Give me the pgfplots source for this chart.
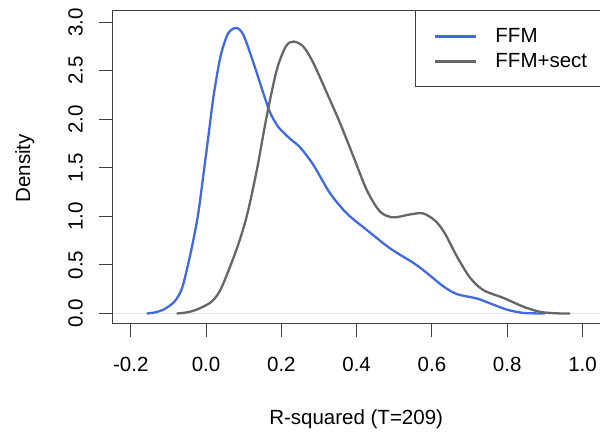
\documentclass[border=0pt]{standalone}
\usepackage{pgfplots}
\pgfplotsset{compat=1.18}
\usepackage{fontspec}
\setmainfont{Liberation Sans}
\definecolor{ffmblue}{HTML}{4169E1}
\definecolor{ffmgray}{HTML}{666666}
\newcommand{\rf}{\fontsize{20.5}{24}\selectfont}
\begin{document}
\begin{tikzpicture}
\useasboundingbox (0,0) rectangle (600pt,434pt);
\begin{axis}[
  at={(112.7pt,110.5pt)}, anchor=south west,
  scale only axis, width=487.9pt, height=313pt,
  xmin=-0.248, xmax=1.048, ymin=-0.103, ymax=3.12,
  axis line style={black!75, line width=0.9pt},
  xtick={-0.2,0,0.2,0.4,0.6,0.8,1.0},
  xticklabels={-0.2,0.0,0.2,0.4,0.6,0.8,1.0},
  ytick={0,0.5,1,1.5,2,2.5,3},
  yticklabels={0.0,0.5,1.0,1.5,2.0,2.5,3.0},
  tick align=outside, xtick pos=bottom, ytick pos=left,
  major tick length=14pt,
  tick style={black!75, line width=0.9pt},
  tick label style={font=\rf},
  xticklabel style={anchor=base},
  xticklabel shift=34pt,
  yticklabel style={rotate=90, anchor=base},
  yticklabel shift=16pt,
  xlabel={R-squared (T=209)},
  ylabel={Density},
  label style={font=\rf},
  xlabel style={at={(axis description cs:0.499,-0.3213)}, anchor=base},
  ylabel style={at={(axis description cs:-0.1695,0.496)}, anchor=base, rotate=0},
  legend cell align=left,
  legend style={at={(1,1)}, anchor=north east, draw=black!75, line width=0.9pt,
    font=\rf, inner xsep=0pt, inner ysep=13pt, column sep=18.4pt,
    nodes={inner sep=0pt, minimum height=25pt}},
  legend image code/.code={\path (0pt,0pt); \draw[#1, line width=2.3pt] (18.7pt,0pt) -- (59.3pt,0pt);},
]
\addplot[gray!20, line width=0.5pt, forget plot] coordinates {(-0.248,0) (1.048,0)};
\addplot[ffmblue, line width=2.3pt, smooth, tension=0.5] coordinates {
(-0.1575,0) (-0.135,0.012) (-0.113,0.040) (-0.087,0.11) (-0.072,0.19) (-0.060,0.31) (-0.040,0.64)
(-0.022,1.0) (-0.008,1.40) (0.006,1.82) (0.020,2.24) (0.038,2.64) (0.058,2.88)
(0.080,2.94) (0.099,2.87) (0.126,2.58) (0.152,2.27) (0.170,2.07) (0.192,1.92)
(0.223,1.80) (0.250,1.71) (0.285,1.53) (0.329,1.24) (0.374,1.03) (0.427,0.86)
(0.489,0.67) (0.555,0.51) (0.595,0.39) (0.630,0.28) (0.666,0.20) (0.719,0.155)
(0.754,0.105) (0.799,0.040) (0.843,0.006) (0.900,0)};
\addlegendentry{FFM}
\addplot[ffmgray, line width=2.3pt, smooth, tension=0.5] coordinates {
(-0.078,0) (-0.050,0.012) (-0.025,0.04) (0.011,0.11) (0.030,0.19) (0.046,0.31) (0.081,0.66)
(0.108,1.0) (0.135,1.48) (0.161,2.03) (0.188,2.51) (0.212,2.75) (0.232,2.80)
(0.258,2.75) (0.285,2.58) (0.321,2.27) (0.356,1.96) (0.391,1.62) (0.427,1.27)
(0.462,1.05) (0.497,0.99) (0.542,1.02) (0.577,1.03) (0.610,0.95) (0.635,0.82)
(0.666,0.59) (0.701,0.37) (0.737,0.24) (0.790,0.16) (0.843,0.07) (0.887,0.017)
(0.930,0.002) (0.967,0)};
\addlegendentry{FFM+sect\hspace*{13pt}}
\end{axis}
\end{tikzpicture}
\end{document}
